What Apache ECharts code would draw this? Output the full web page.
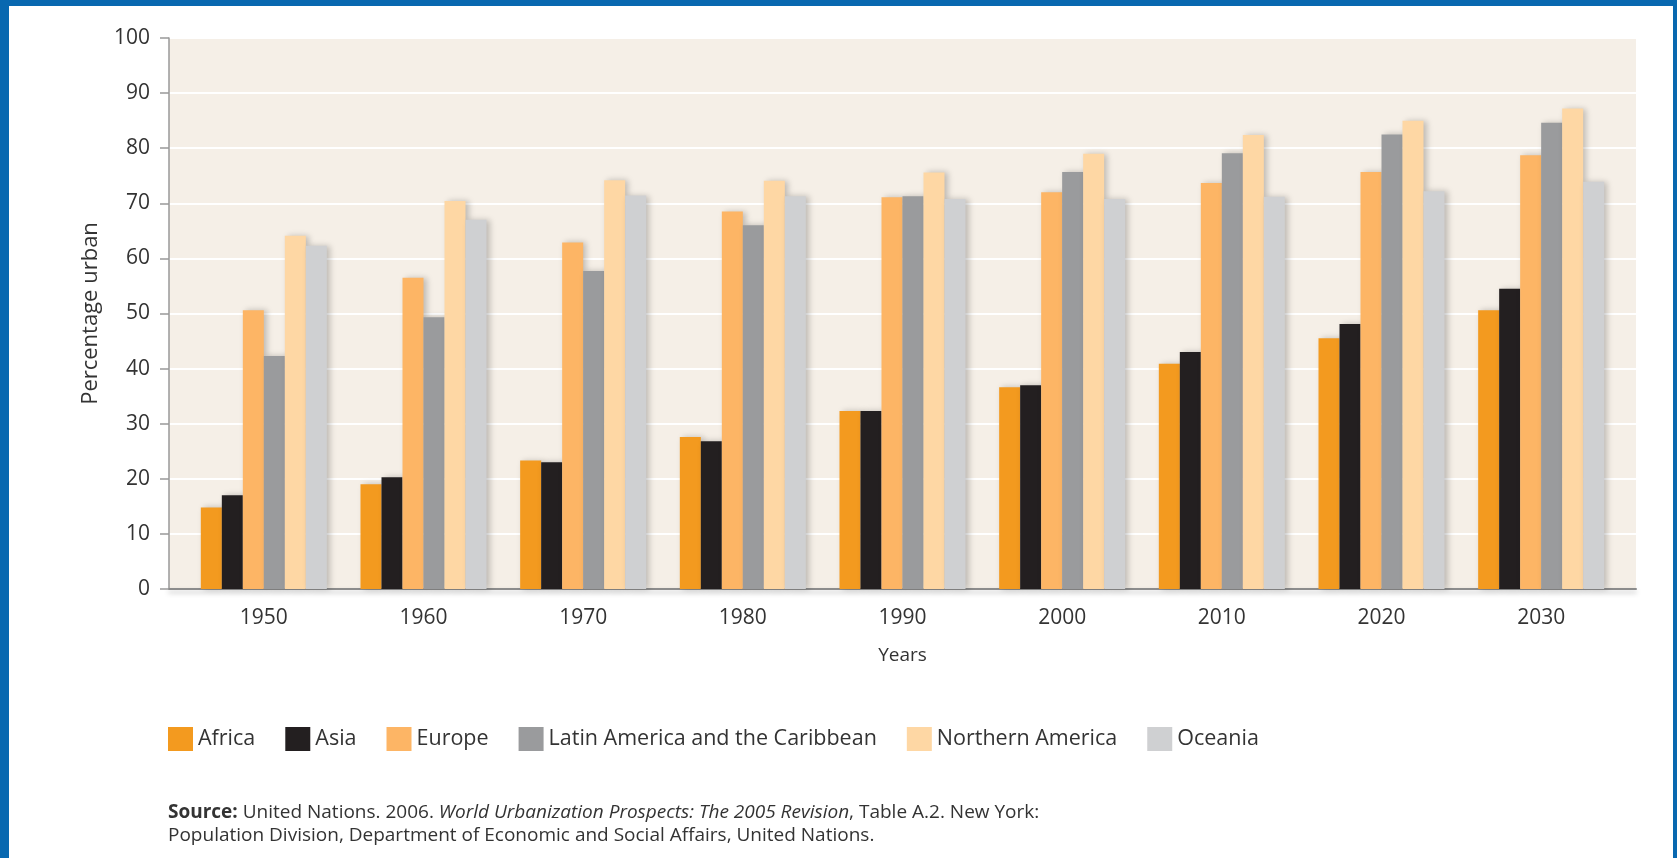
<!DOCTYPE html>
<html>
<head>
<meta charset="utf-8">
<script src="https://cdn.jsdelivr.net/npm/echarts@6/dist/echarts.min.js"></script>
<style>
html,body{margin:0;padding:0;background:#fff;}
#wrap{position:relative;width:1677px;height:858px;}
#chart{position:absolute;left:0;top:0;width:1677px;height:858px;}
#frame{position:absolute;left:0;top:0;width:1677px;height:858px;box-sizing:border-box;border-left:9px solid #0868B0;border-top:6px solid #0868B0;border-right:4px solid #0868B0;pointer-events:none;}
</style>
</head>
<body>
<div id="wrap"><div id="chart"></div><div id="frame"></div></div>
<script>
const years = ['1950','1960','1970','1980','1990','2000','2010','2020','2030'];
const regions = ['Africa','Asia','Europe','Latin America and the Caribbean','Northern America','Oceania'];
const africa   = [14.8, 19.0, 23.3, 27.6, 32.3, 36.6, 40.9, 45.5, 50.6];
const asia     = [17.0, 20.3, 23.0, 26.8, 32.3, 37.0, 43.0, 48.1, 54.5];
const europe   = [50.6, 56.5, 62.9, 68.5, 71.1, 72.0, 73.7, 75.7, 78.7];
const latinAm  = [42.3, 49.3, 57.7, 66.0, 71.3, 75.7, 79.1, 82.5, 84.6];
const northAm  = [64.1, 70.4, 74.2, 74.1, 75.6, 79.0, 82.4, 85.0, 87.2];
const oceania  = [62.3, 67.0, 71.4, 71.3, 70.8, 70.8, 71.2, 72.2, 73.9];
const yTicks = [0,10,20,30,40,50,60,70,80,90,100];

const colors = ['#F39A1F','#231F20','#FDB565','#9A9B9D','#FED7A4','#CFD0D2'];
const seriesData = [africa, asia, europe, latinAm, northAm, oceania];
const font = 'Open Sans';

const chart = echarts.init(document.getElementById('chart'), null, {renderer:'canvas'});
const option = {
  animation: false,
  backgroundColor: '#ffffff',
  grid: [
    {left:169, right:41, top:38, bottom:269, show:true, backgroundColor:'#F5EFE7', borderWidth:0},
    {left:184, right:56, top:38, bottom:269}
  ],
  xAxis: [
    {type:'value', gridIndex:0, min:0, max:1, axisLabel:{show:false}, axisTick:{show:false}, splitLine:{show:false},
     axisLine:{show:true, lineStyle:{color:'#8C8C8C', width:2, shadowColor:'rgba(0,0,0,0.25)', shadowBlur:5, shadowOffsetY:3}}},
    {type:'category', gridIndex:1, data:years, axisLine:{show:false}, axisTick:{show:false},
     axisLabel:{margin:19, color:'#333', fontSize:21, fontFamily:font},
     name:'Years', nameLocation:'middle', nameGap:57, nameTextStyle:{color:'#333', fontSize:19, fontFamily:font}}
  ],
  yAxis: [
    {type:'value', gridIndex:0, min:0, max:100, interval:10,
     axisLine:{show:true, lineStyle:{color:'#999', width:1.5}},
     axisTick:{show:true, length:9, lineStyle:{color:'#999', width:1.5}},
     axisLabel:{margin:19, color:'#333', fontSize:21, fontFamily:font, formatter: v => String(yTicks[Math.round(v / 10)])}},
    {type:'value', gridIndex:1, min:0, max:100, show:false}
  ],
  legend: {
    left:168, top:727, padding:0, itemWidth:25, itemHeight:24, itemGap:30, icon:'rect',
    textStyle:{color:'#333', fontSize:21.5, fontFamily:font},
    data: regions
  },
  graphic: [
    {type:'text', left:168, top:801, z:10,
     style:{
       text:'{b|Source:} United Nations. 2006. {i|World Urbanization Prospects: The 2005 Revision}, Table A.2. New York:\nPopulation Division, Department of Economic and Social Affairs, United Nations.',
       fill:'#333', font:'19px "Open Sans"', lineHeight:23,
       rich:{
         b:{fontWeight:'bold', fontSize:19, fontFamily:font, fill:'#333', lineHeight:23},
         i:{fontStyle:'italic', fontSize:19, fontFamily:font, fill:'#333', lineHeight:23}
       }
     }}
  ],
  series: regions.map((name, i) => ({
    name: name,
    type: 'bar',
    xAxisIndex: 1,
    yAxisIndex: 1,
    data: seriesData[i],
    barWidth: 21,
    barGap: '0%',
    itemStyle: {color: colors[i], shadowColor:'rgba(0,0,0,0.22)', shadowBlur:6, shadowOffsetX:3}
  }))
};
option.yAxis[0].splitLine = {show:true, lineStyle:{color:'#ffffff', width:2}};
option.yAxis[0].name = 'Percentage urban';
option.yAxis[0].nameLocation = 'middle';
option.yAxis[0].nameGap = 67;
option.yAxis[0].nameRotate = 90;
option.yAxis[0].nameTextStyle = {color:'#333', fontSize:22, fontFamily:font};
chart.setOption(option);
</script>
</body>
</html>
